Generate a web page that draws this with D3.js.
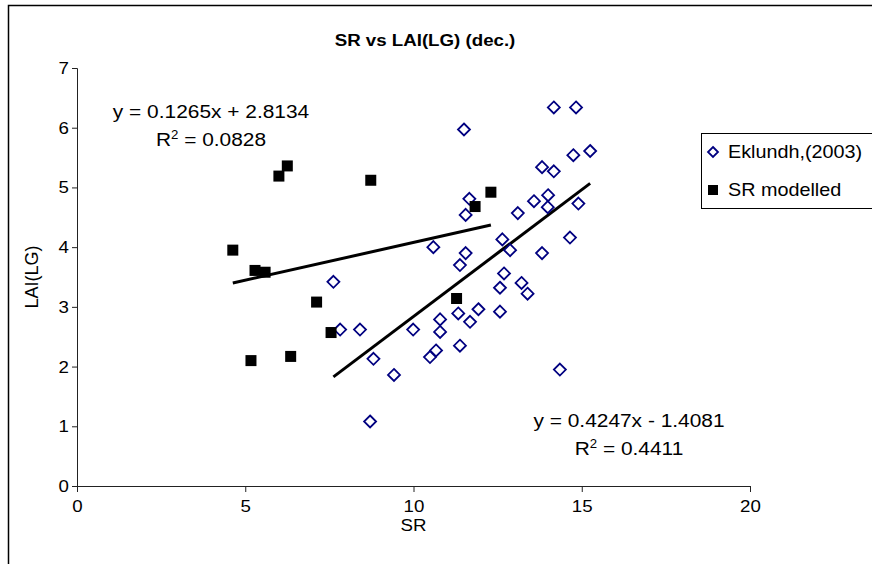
<!DOCTYPE html>
<html>
<head>
<meta charset="utf-8">
<script src="https://cdn.jsdelivr.net/npm/d3@7"></script>
<style>
  html, body { margin: 0; padding: 0; background: #fff; }
  svg { display: block; font-family: "Liberation Sans", Arial, sans-serif; }
</style>
</head>
<body>
<svg id="chart" width="872" height="564"></svg>
<script>
// ---- data ----
const eklundhX = [14.17, 14.83, 11.50, 14.75, 15.25, 13.82, 14.17, 11.66, 11.55, 14.00,
                  13.58, 13.99, 14.90, 13.10, 10.59, 11.55, 11.38, 12.64, 12.87, 13.82,
                  14.65, 12.69, 12.57, 13.21, 13.39, 11.33, 11.93, 11.68, 12.57, 11.38,
                  14.35, 10.79, 10.79, 9.99, 8.41, 7.82, 7.62, 10.67, 10.49, 8.81,
                  9.42, 8.71];
const eklundhY = [6.34, 6.34, 5.97, 5.54, 5.61, 5.34, 5.27, 4.81, 4.54, 4.87,
                  4.77, 4.67, 4.73, 4.57, 4.00, 3.90, 3.70, 4.13, 3.95, 3.90,
                  4.16, 3.56, 3.32, 3.40, 3.22, 2.89, 2.96, 2.75, 2.92, 2.35,
                  1.95, 2.79, 2.58, 2.62, 2.62, 2.62, 3.42, 2.27, 2.16, 2.13,
                  1.86, 1.08];
const modelX = [4.63, 5.29, 5.59, 6.00, 6.25, 5.17, 6.35, 7.12, 7.55, 8.73, 11.28, 11.83, 12.30];
const modelY = [3.95, 3.61, 3.58, 5.19, 5.36, 2.10, 2.17, 3.08, 2.57, 5.12, 3.14, 4.68, 4.92];
const trendModel = { slope: 0.1265, intercept: 2.8134, r2: "0.0828", label: "y = 0.1265x + 2.8134" };
const trendEklundh = { slope: 0.4247, intercept: -1.4081, r2: "0.4411", label: "y = 0.4247x - 1.4081" };
const xTicks = [0, 5, 10, 15, 20];
const yTicks = [0, 1, 2, 3, 4, 5, 6, 7];
const seriesNames = ["Eklundh,(2003)", "SR modelled"];
const title = "SR vs LAI(LG) (dec.)";
const xTitle = "SR";
const yTitle = "LAI(LG)";

// ---- drawing ----
const SX = 1.1; // horizontal stretch of the lettering in the reference
const svg = d3.select("#chart");
const x = d3.scaleLinear().domain([0, 20]).range([77, 750]);
const y = d3.scaleLinear().domain([0, 7]).range([486, 68]);

function label(parent, px, py, str, opts = {}) {
  const g = parent.append("g").attr("transform", `translate(${px},${py}) scale(${opts.sx ?? SX},1)`);
  const t = g.append("text")
    .attr("text-anchor", opts.anchor || "start")
    .attr("font-size", opts.size || 16)
    .attr("font-weight", opts.weight || "normal")
    .attr("fill", "#000");
  if (str !== null) t.text(str);
  return t;
}

// outer chart frame (extends beyond right/bottom edges)
svg.append("path")
  .attr("d", "M8.5,600 V5.5 H900")
  .attr("fill", "none").attr("stroke", "#000").attr("stroke-width", 1.5);

// title
label(svg, 425, 46, title, { anchor: "middle", weight: "bold", size: 17 });

// axes
const xAxis = d3.axisBottom(x).tickValues(xTicks).tickSize(6).tickPadding(8).tickFormat(d3.format("d"));
const yAxis = d3.axisLeft(y).tickValues(yTicks).tickSize(5).tickPadding(3).tickFormat(d3.format("d"));
const gx = svg.append("g").attr("transform", `translate(0,${y(0)})`).call(xAxis);
const gy = svg.append("g").attr("transform", `translate(${x(0)},0)`).call(yAxis);
[gx, gy].forEach(g => {
  g.selectAll("path,line").attr("stroke", "#222").attr("stroke-width", 1);
  g.selectAll("text").attr("font-size", 17).attr("fill", "#000")
    .attr("font-family", "'Liberation Sans', Arial, sans-serif");
});
gx.selectAll(".tick text").attr("transform", `scale(${SX},1)`);
gy.selectAll(".tick text").attr("transform", `scale(${SX},1)`).attr("x", -8 / SX);

// axis titles
label(svg, (x(0) + x(20)) / 2, 531, xTitle, { anchor: "middle", size: 17 });
svg.append("text").attr("transform", `translate(38,${(y(0) + y(7)) / 2}) rotate(-90)`)
  .attr("text-anchor", "middle").attr("font-size", 18).text(yTitle);

// trendlines
function trendLine(xs, t) {
  const [x0, x1] = d3.extent(xs);
  return [[x0, t.slope * x0 + t.intercept], [x1, t.slope * x1 + t.intercept]];
}
const lineGen = d3.line().x(d => x(d[0])).y(d => y(d[1]));
[[modelX, trendModel], [eklundhX, trendEklundh]].forEach(([xs, t]) => {
  svg.append("path").attr("d", lineGen(trendLine(xs, t)))
    .attr("stroke", "#000").attr("stroke-width", 3).attr("fill", "none");
});

// markers
const diamond = s => `M0,${-s} L${s},0 L0,${s} L${-s},0 Z`;
svg.append("g").selectAll("path").data(d3.range(eklundhX.length)).join("path")
  .attr("transform", i => `translate(${x(eklundhX[i])},${y(eklundhY[i])})`)
  .attr("d", diamond(6))
  .attr("fill", "#fff").attr("stroke", "#000080").attr("stroke-width", 1.8);

svg.append("g").selectAll("rect").data(d3.range(modelX.length)).join("rect")
  .attr("x", i => x(modelX[i]) - 5.5).attr("y", i => y(modelY[i]) - 5.5)
  .attr("width", 11).attr("height", 11).attr("fill", "#000");

// equation labels
function eqLabel(cx, cy, t) {
  label(svg, cx, cy, t.label, { anchor: "middle", size: 19 });
  const r = label(svg, cx, cy + 28, null, { anchor: "middle", size: 19 });
  r.append("tspan").text("R");
  r.append("tspan").attr("font-size", 12).attr("dy", -7).text("2");
  r.append("tspan").attr("dy", 7).text(" = " + t.r2);
}
eqLabel(211, 118, trendModel);
eqLabel(629, 427, trendEklundh);

// legend
const lg = svg.append("g");
lg.append("rect").attr("x", 701.5).attr("y", 133.5).attr("width", 200).attr("height", 75)
  .attr("fill", "#fff").attr("stroke", "#000").attr("stroke-width", 1);
lg.append("path").attr("transform", "translate(713,152)").attr("d", diamond(5))
  .attr("fill", "#fff").attr("stroke", "#000080").attr("stroke-width", 1.8);
lg.append("rect").attr("x", 708).attr("y", 185).attr("width", 10).attr("height", 10).attr("fill", "#000");
label(lg, 728, 158, seriesNames[0], { size: 18 });
label(lg, 728, 196, seriesNames[1], { size: 18 });
</script>
</body>
</html>
